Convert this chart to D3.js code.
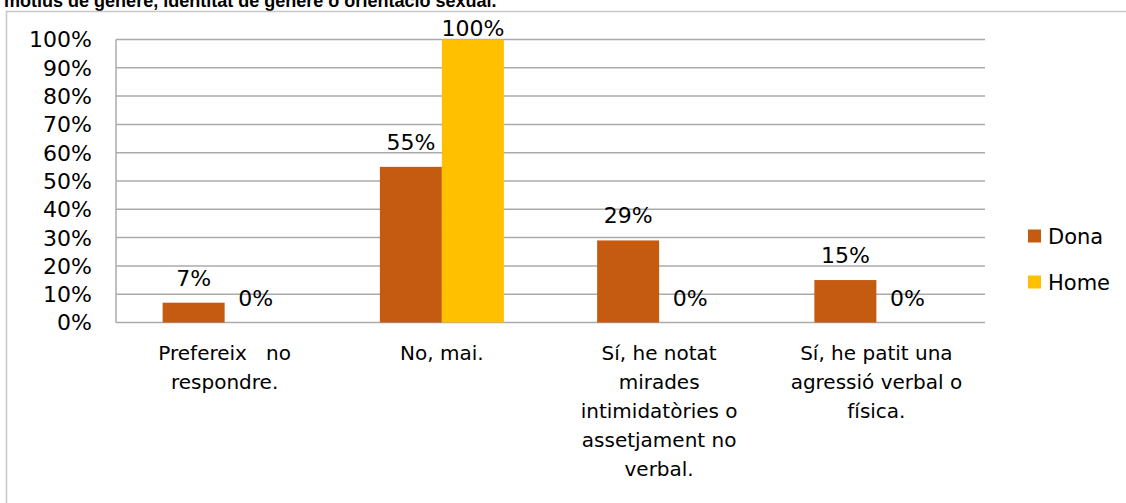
<!DOCTYPE html>
<html><head><meta charset="utf-8">
<script src="https://cdn.jsdelivr.net/npm/d3@7"></script>
<style>
html,body{margin:0;padding:0;background:#fff;overflow:hidden;}
svg{display:block;}
</style></head>
<body>
<svg id="c" width="1126" height="503"></svg>
<script>
const titleText = "motius de gènere, identitat de gènere o orientació sexual.";
const categories = [
  ["Prefereix   no", "respondre."],
  ["No, mai."],
  ["Sí, he notat", "mirades", "intimidatòries o", "assetjament no", "verbal."],
  ["Sí, he patit una", "agressió verbal o", "física."]
];
const seriesNames = ["Dona", "Home"];
const dona = [7, 55, 29, 15];
const home = [0, 100, 0, 0];
const colors = ["#C55A11", "#FFC000"];
const yTicks = [0,10,20,30,40,50,60,70,80,90,100];

(function(){
const svg = d3.select("#c");
const FONT = "'DejaVu Sans', sans-serif";

// title (partly cut off at top, as in the reference)
const t = svg.append("text").attr("x", 4).attr("y", 7)
  .attr("font-family", "'Liberation Sans', Arial, sans-serif")
  .attr("font-weight", "bold").attr("font-size", 16).attr("fill", "#000")
  .text(titleText);
const tl = t.node().getComputedTextLength();
t.attr("font-size", 16 * 493 / tl);

// outer chart border
svg.append("path").attr("d", "M6.5,503 L6.5,11.5 L1130,11.5")
  .attr("fill", "none").attr("stroke", "#c8c8c8").attr("stroke-width", 1.5);

const pLeft = 116, pRight = 985, pTop = 39.5, pBottom = 322.5;
const x0 = d3.scaleBand().domain(d3.range(categories.length)).range([pLeft, pRight]).paddingInner(0).paddingOuter(0);
const y = d3.scaleLinear().domain([0, 100]).range([pBottom, pTop]);
const bw = 62;

// gridlines
svg.append("g").selectAll("line").data(yTicks).join("line")
  .attr("x1", pLeft).attr("x2", pRight)
  .attr("y1", d => y(d)).attr("y2", d => y(d))
  .attr("stroke", "#ababab").attr("stroke-width", 1.5);
// vertical axis line
svg.append("line").attr("x1", pLeft).attr("x2", pLeft).attr("y1", pTop).attr("y2", pBottom)
  .attr("stroke", "#ababab").attr("stroke-width", 1.5);

// y tick labels
svg.append("g").selectAll("text").data(yTicks).join("text")
  .attr("x", 92).attr("y", d => y(d)).attr("dy", "0.36em")
  .attr("text-anchor", "end").attr("font-family", FONT).attr("font-size", 22).attr("fill", "#000")
  .text(d => d + "%");

const series = [dona, home];
series.forEach((vals, si) => {
  const g = svg.append("g");
  g.selectAll("rect").data(vals).join("rect")
    .attr("x", (d, i) => x0(i) + x0.bandwidth() / 2 - bw + si * bw)
    .attr("width", bw)
    .attr("y", d => y(d))
    .attr("height", d => pBottom - y(d))
    .attr("fill", colors[si]);
  g.selectAll("text").data(vals).join("text")
    .attr("x", (d, i) => x0(i) + x0.bandwidth() / 2 - bw / 2 + si * bw)
    .attr("y", d => Math.max(y(d) - 17, 36))
    .attr("text-anchor", "middle").attr("font-family", FONT).attr("font-size", 22).attr("fill", "#000")
    .text(d => d + "%");
});

// category labels
categories.forEach((lines, i) => {
  const tx = svg.append("text").attr("font-family", FONT).attr("font-size", 20)
    .attr("fill", "#000").attr("text-anchor", "middle").style("white-space", "pre");
  lines.forEach((ln, j) => {
    tx.append("tspan").attr("x", x0(i) + x0.bandwidth() / 2).attr("y", 360 + j * 29).text(ln);
  });
});

// legend
seriesNames.forEach((n, i) => {
  const ly = 236 + i * 46;
  svg.append("rect").attr("x", 1028).attr("y", ly - 6.5).attr("width", 13).attr("height", 13).attr("fill", colors[i]);
  svg.append("text").attr("x", 1048).attr("y", ly).attr("dy", "0.36em")
    .attr("font-family", FONT).attr("font-size", 21).attr("fill", "#000").text(n);
});
})();
</script>
</body></html>
